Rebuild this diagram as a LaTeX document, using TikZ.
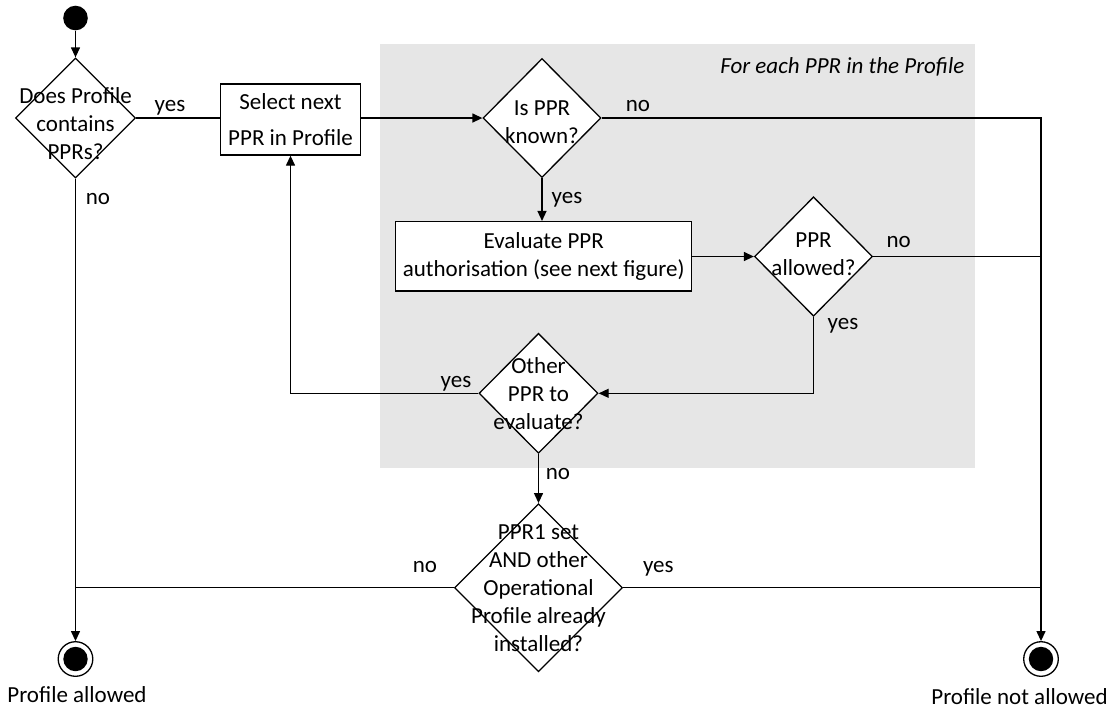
\documentclass[tikz,border=0pt]{standalone}
\usepackage{fontspec}
\setmainfont{Carlito}
\usetikzlibrary{shapes.geometric,arrows.meta}
\definecolor{loopbg}{RGB}{230,230,230}
\begin{document}
\begin{tikzpicture}[x=0.5pt,y=-0.5pt, line width=0.65pt,
  font=\fontsize{11.5}{14}\selectfont,
  arr/.style={-{Triangle[length=5pt,width=4.5pt]}},
  dec/.style={diamond, draw, fill=white, inner sep=0pt},
  act/.style={rectangle, draw, fill=white, inner sep=0pt, align=center},
  lbl/.style={inner sep=0pt, anchor=base},
  startst/.style={circle, fill=black, inner sep=0pt, minimum size=12.3pt},
  endst/.style={circle, draw, fill=white, inner sep=0pt, minimum size=17.3pt,
    path picture={\fill[black] (path picture bounding box.center) circle (6.1pt);}}]
\useasboundingbox (0,0) rectangle (1117,709);
\fill[loopbg] (380,44) rectangle (975,468);
\node[anchor=east, inner sep=0pt, font=\fontsize{11.5}{14}\selectfont\itshape] (title) at (965,67) {For each PPR in the Profile};

\node[startst] (s) at (75.5,18) {};
\node[dec, minimum width=60pt, minimum height=60pt,
  label={[align=center,yshift=-3pt]center:Does Profile\\contains\\PPRs?}] (d1) at (75.5,118) {};
\node[act, minimum width=69.7pt, minimum height=35.5pt] (b1) at (290.5,119.5) {Select next\\[4pt]PPR in Profile};
\node[dec, minimum width=59pt, minimum height=59.5pt,
  label={[align=center,yshift=-2pt]center:Is PPR\\known?}] (d2) at (542,118) {};
\node[act, minimum width=148pt, minimum height=34.7pt] (b2) at (543.7,256.3) {Evaluate PPR\\authorisation (see next figure)};
\node[dec, minimum width=59pt, minimum height=59.7pt,
  label={[align=center,yshift=1pt]center:PPR\\allowed?}] (d3) at (813.5,256.5) {};
\node[dec, minimum width=59.5pt, minimum height=60pt,
  label={[align=center]center:Other\\PPR to\\evaluate?}] (d4) at (538.5,393.3) {};
\node[dec, minimum width=84pt, minimum height=84pt,
  label={[align=center]center:PPR1 set\\AND other\\Operational\\Profile already\\installed?}] (d5) at (538.5,587.7) {};
\node[endst] (e1) at (75.5,659) {};
\node[endst] (e2) at (1041,659) {};
\node[inner sep=0pt] (t1) at (77,695) {Profile allowed};
\node[inner sep=0pt] (t2) at (1019.5,696.7) {Profile not allowed};

\draw[arr] (s) -- (d1);
\draw (d1.east) -- (d1.east -| b1.west);
\draw[arr] (b1.east |- d2.west) -- (d2.west);
\draw[arr] (d2.south) -- (d2.south |- b2.north);
\draw[arr] (d2.east) -| (e2.north);
\draw[arr] (b2.east |- d3.west) -- (d3.west);
\draw (d3.east) -- (d3.east -| e2.north);
\draw[arr] (d3.south) |- (d4.east);
\draw[arr] (d4.west) -| (b1.south);
\draw[arr] (d4.south) -- (d5.north);
\draw (d5.west) -- (d5.west -| e1.north);
\draw (d5.east) -- (d5.east -| e2.north);
\draw[arr] (d1.south) -- (e1.north);

\node[lbl] (l1) at (170,111) {yes};
\node[lbl] (l2) at (98,204) {no};
\node[lbl] (l3) at (638,111) {no};
\node[lbl] (l4) at (567,203) {yes};
\node[lbl] (l5) at (898.7,247.7) {no};
\node[lbl] (l6) at (843,329) {yes};
\node[lbl] (l7) at (456,387) {yes};
\node[lbl] (l8) at (558,479) {no};
\node[lbl] (l9) at (425,572.7) {no};
\node[lbl] (l10) at (658.3,572.7) {yes};
\end{tikzpicture}
\end{document}
